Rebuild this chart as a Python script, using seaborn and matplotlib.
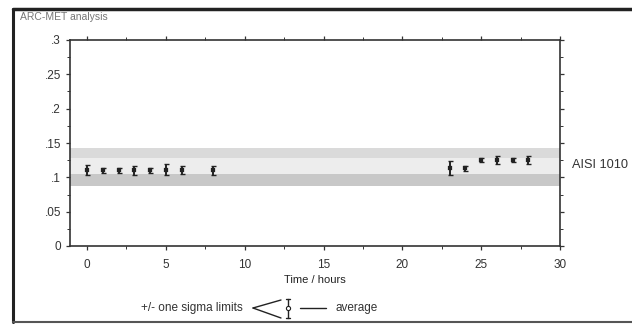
import matplotlib
matplotlib.use("Agg")
import matplotlib.pyplot as plt
import seaborn as sns
import pandas as pd
from matplotlib.lines import Line2D
from matplotlib.ticker import MultipleLocator, FuncFormatter

# data
hours = [0, 1, 2, 3, 4, 5, 6, 8, 23, 24, 25, 26, 27, 28]
average = [0.111, 0.110, 0.110, 0.110, 0.110, 0.111, 0.111, 0.110,
           0.114, 0.113, 0.125, 0.125, 0.125, 0.125]
sigma = [0.007, 0.003, 0.003, 0.006, 0.003, 0.008, 0.006, 0.006,
         0.010, 0.004, 0.003, 0.006, 0.003, 0.006]
x_ticks = [0, 5, 10, 15, 20, 25, 30]
y_ticks = [0, 0.05, 0.1, 0.15, 0.2, 0.25, 0.3]
# grey specification band (AISI 1010)
band_lower = [0.088, 0.105, 0.128]
band_upper = [0.105, 0.128, 0.143]
band_colors = ["#c8c8c8", "#ededed", "#dadada"]

df = pd.DataFrame({"hours": hours, "average": average, "sigma": sigma})

sns.set_style("ticks")
plt.rcParams["font.family"] = ["Liberation Sans", "DejaVu Sans"]

fig = plt.figure(figsize=(6.32, 3.24), dpi=100)
ax = fig.add_axes([70 / 632, 1 - 246 / 324, 490 / 632, 206 / 324])

for lo, hi, c in zip(band_lower, band_upper, band_colors):
    ax.axhspan(lo, hi, color=c, lw=0, zorder=0)

ax.errorbar(df["hours"], df["average"], yerr=df["sigma"], fmt="none",
            ecolor="#222222", elinewidth=1.4, capsize=1.8, capthick=1, zorder=3)
sns.scatterplot(data=df, x="hours", y="average", marker="s", s=5,
                color="#222222", edgecolor="#222222", ax=ax, zorder=4)

ax.set_xlim(-1.08, 30)
ax.set_ylim(0, 0.3)
ax.set_xticks(x_ticks)
ax.set_yticks(y_ticks)
ax.xaxis.set_minor_locator(MultipleLocator(2.5))
ax.yaxis.set_minor_locator(MultipleLocator(0.025))


def fmt(v, pos):
    if abs(v) < 1e-9:
        return "0"
    s = ("%.2f" % v).rstrip("0")
    return s[1:] if s.startswith("0") else s


ax.yaxis.set_major_formatter(FuncFormatter(fmt))
ax.tick_params(axis="both", which="both", color="#333333", labelsize=8.5,
               labelcolor="#333333", top=True, right=True, direction="out")
ax.tick_params(which="major", length=3, width=0.9)
ax.tick_params(which="minor", length=2, width=0.7)
ax.tick_params(axis="x", pad=6)
for sp in ax.spines.values():
    sp.set_color("#333333")
    sp.set_linewidth(1.2)

ax.set_xlabel("Time / hours", fontsize=8, color="#222222", labelpad=3)
ax.set_ylabel("")
ax.text(1.024, 0.118, "AISI 1010", transform=ax.get_yaxis_transform(),
        fontsize=9.2, color="#333333", va="center", ha="left")

# outer frame of the scanned figure
W, H = 632, 324
def fx(px):
    return px / W
def fy(py):
    return 1 - py / H

fig.add_artist(Line2D([fx(13), fx(640)], [fy(9), fy(9)], color="#222222", lw=2.5))
fig.add_artist(Line2D([fx(13), fx(13)], [fy(9), fy(322)], color="#222222", lw=2.2))
fig.add_artist(Line2D([fx(13), fx(640)], [fy(322), fy(322)], color="#555555", lw=1.5))
fig.text(fx(20), fy(17), "ARC-MET analysis", fontsize=7.5, color="#777777",
         va="center", ha="left")

# hand-made legend at the bottom
ly = fy(308)
fig.text(fx(243), ly, "+/- one sigma limits", fontsize=8.5, color="#333333",
         ha="right", va="center")
fig.add_artist(Line2D([fx(253), fx(281)], [fy(308), fy(300)], color="#222222", lw=1))
fig.add_artist(Line2D([fx(253), fx(281)], [fy(308), fy(318)], color="#222222", lw=1))
fig.add_artist(Line2D([fx(288), fx(288)], [fy(299), fy(318)], color="#222222", lw=1))
fig.add_artist(Line2D([fx(286), fx(290)], [fy(299), fy(299)], color="#222222", lw=1))
fig.add_artist(Line2D([fx(286), fx(290)], [fy(318), fy(318)], color="#222222", lw=1))
fig.add_artist(Line2D([fx(288)], [fy(308)], marker="o", ms=3, mfc="white",
                      mec="#222222", mew=0.8, lw=0))
fig.add_artist(Line2D([fx(300), fx(326)], [fy(308), fy(308)], color="#222222", lw=1))
fig.text(fx(336), ly, "average", fontsize=8.5, color="#333333", ha="left", va="center")

fig.savefig("out.png", dpi=100, facecolor="white")
